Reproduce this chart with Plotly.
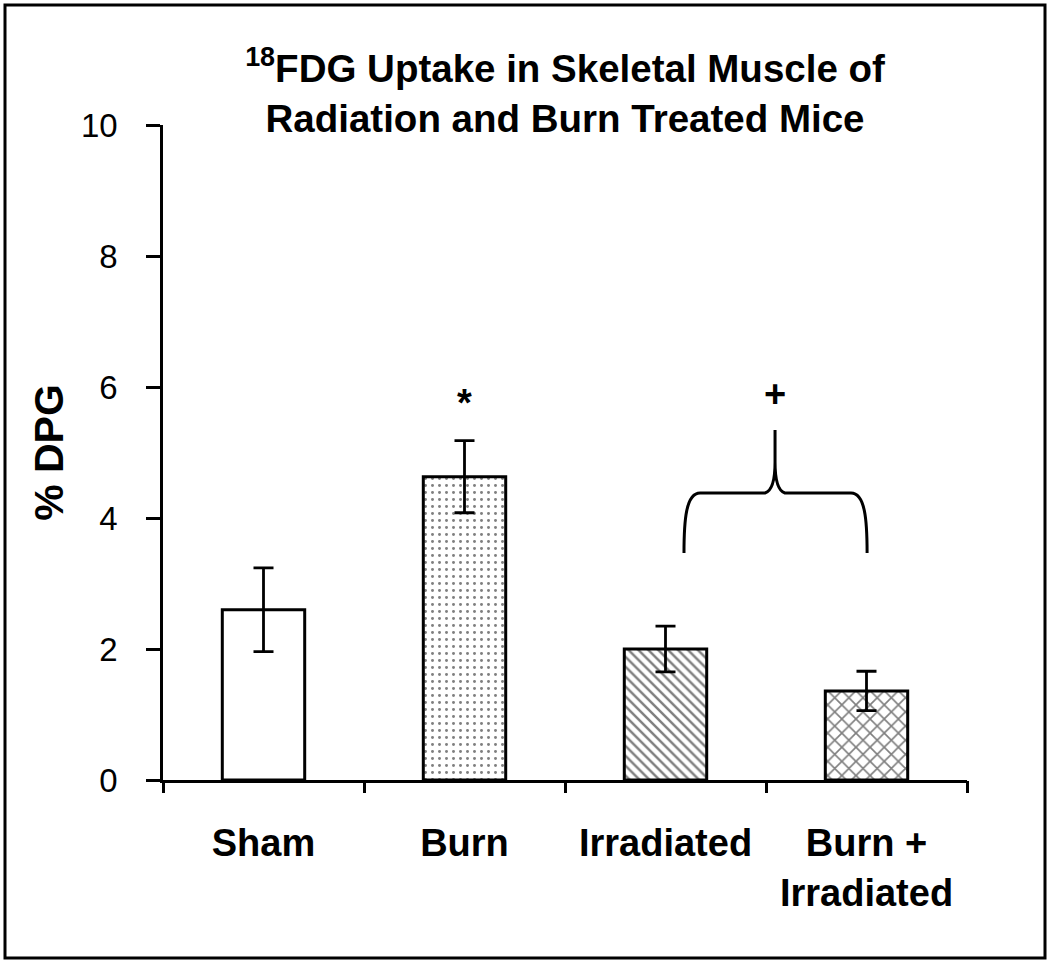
import plotly.graph_objects as go

categories = ["Sham", "Burn", "Irradiated", "Burn +<br>Irradiated"]
values = [2.6, 4.63, 2.0, 1.36]
errors = [0.64, 0.55, 0.35, 0.30]
patterns = ["", ".", "\\", "x"]
pattern_sizes = [8, 7, 7, 10]
pattern_solidity = [0.2, 0.14, 0.35, 0.3]
y_ticks = [0, 2, 4, 6, 8, 10]

FONT = "Liberation Sans, Arial, sans-serif"

fig = go.Figure()
fig.add_trace(go.Bar(
    x=list(range(len(categories))),
    y=values,
    width=0.41,
    marker=dict(
        color="white",
        line=dict(color="black", width=3),
        pattern=dict(shape=patterns, size=pattern_sizes, solidity=pattern_solidity,
                     fgcolor="black", bgcolor="white", fillmode="overlay"),
    ),
    error_y=dict(type="data", array=errors, visible=True, color="black",
                 thickness=2.8, width=10),
    showlegend=False,
))

# brace over Irradiated and Burn + Irradiated (data units)
brace = ("M 2.092,3.466 C 2.092,3.969 2.102,4.382 2.172,4.382 "
         "L 2.495,4.382 Q 2.545,4.427 2.545,4.855 L 2.545,5.344 "
         "M 2.545,4.855 Q 2.545,4.427 2.594,4.382 L 2.923,4.382 "
         "C 2.993,4.382 3.003,3.969 3.003,3.466")
fig.add_shape(type="path", path=brace, xref="x", yref="y",
              line=dict(color="black", width=3))

fig.add_annotation(x=1, y=5.75, xref="x", yref="y", text="<b>*</b>",
                   showarrow=False, font=dict(family=FONT, size=38, color="black"))
fig.add_annotation(x=2.545, y=5.9, xref="x", yref="y", text="<b>+</b>",
                   showarrow=False, font=dict(family=FONT, size=38, color="black"))

# outer border
fig.add_shape(type="rect", xref="paper", yref="paper",
              x0=(5 - 163) / 804, x1=(1045 - 163) / 804,
              y0=(780 - 958) / 655, y1=(780 - 5) / 655,
              line=dict(color="black", width=3), fillcolor="rgba(0,0,0,0)")

fig.update_layout(
    width=1050, height=963,
    margin=dict(l=163, r=83, t=125, b=183, autoexpand=False),
    paper_bgcolor="white", plot_bgcolor="white",
    font=dict(family=FONT, color="black"),
    title=dict(
        text="<b><sup>18</sup>FDG Uptake in Skeletal Muscle of<br>Radiation and Burn Treated Mice</b>",
        x=0.5, xref="paper", xanchor="center",
        y=1 - 82 / 963, yref="container", yanchor="top",
        font=dict(family=FONT, size=38.5, color="black"),
        automargin=False,
    ),
    xaxis=dict(
        range=[-0.5, 3.5],
        tickmode="array",
        tickvals=list(range(len(categories))),
        ticktext=["<b>%s</b>" % c for c in categories],
        showgrid=False, zeroline=False,
        showline=True, linecolor="black", linewidth=2.5,
        ticks="", tickfont=dict(family=FONT, size=38, color="black"),
        ticklabelstandoff=28, automargin=False,
    ),
    yaxis=dict(
        range=[0, 10],
        tickvals=y_ticks,
        showgrid=False, zeroline=False,
        showline=True, linecolor="black", linewidth=2.5,
        ticks="outside", ticklen=14, tickwidth=2.5, tickcolor="black",
        tickfont=dict(family=FONT, size=33, color="black"),
        ticklabelstandoff=22, automargin=False,
        title=dict(text="<b>% DPG</b>", font=dict(family=FONT, size=41, color="black"),
                   standoff=5),
    ),
    xaxis2=dict(
        overlaying="x", side="bottom", range=[-0.5, 3.5],
        tickvals=[-0.5, 0.5, 1.5, 2.5, 3.5], showticklabels=False,
        ticks="outside", ticklen=12, tickwidth=2.5, tickcolor="black",
        showgrid=False, zeroline=False, showline=False, automargin=False,
    ),
)

fig.add_trace(go.Scatter(x=[None], y=[None], xaxis="x2", showlegend=False))

fig.write_html("out.html", config={"displayModeBar": False},
               post_script="document.body.style.margin='0px';")
